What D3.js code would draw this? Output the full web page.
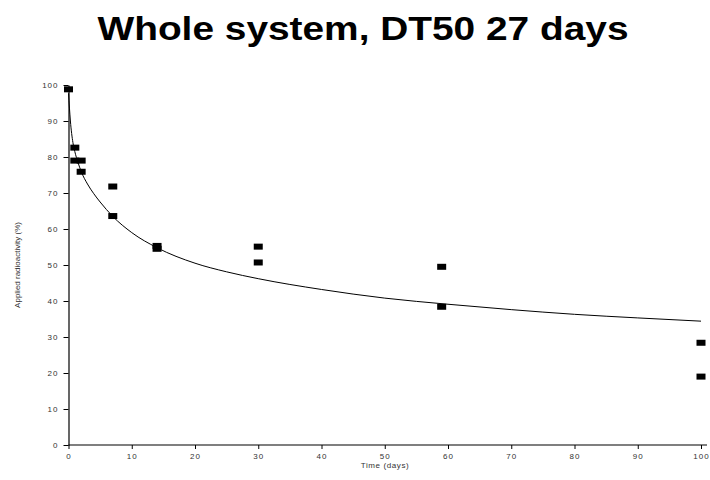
<!DOCTYPE html>
<html>
<head>
<meta charset="utf-8">
<script src="https://cdn.jsdelivr.net/npm/d3@7"></script>
<style>
  body { margin: 0; background: #fff; }
  svg { display: block; }
  .tick text { font-family: "Liberation Sans", Arial, sans-serif; font-size: 8px; fill: #333; letter-spacing: 1px; }
</style>
</head>
<body>
<svg id="chart" width="710" height="480"></svg>
<script>
// observed residues
const obs_days = [0, 1, 1, 2, 2, 7, 7, 14, 14, 30, 30, 59, 59, 100, 100];
const obs_values = [98.8, 82.6, 79.0, 79.0, 75.9, 71.8, 63.6, 55.3, 54.5, 55.1, 50.7, 49.5, 38.4, 28.4, 19.0];

// fitted curve
const fit_days = [0, 0.3, 0.7, 1, 1.5, 2, 3, 4, 5, 7, 10, 14, 20, 25, 30, 40, 50, 60, 70, 80, 90, 100];
const fit_values = [97.7, 90, 84, 81.5, 78.5, 76, 72.5, 69.8, 67.5, 63.5, 59, 54.8, 50.5, 48.1, 46.2, 43.2, 40.8, 39.1, 37.6, 36.3, 35.3, 34.4];

const x_ticks = [0, 10, 20, 30, 40, 50, 60, 70, 80, 90, 100];
const y_ticks = [0, 10, 20, 30, 40, 50, 60, 70, 80, 90, 100];

const chart_title = "Whole system, DT50 27 days";
const x_title = "Time (days)";
const y_title = "Applied radioactivity (%)";

const svg = d3.select("#chart");

const x = d3.scaleLinear().domain([0, 100]).range([68.5, 701]);
const y = d3.scaleLinear().domain([0, 100]).range([445, 85]);

svg.append("text")
  .attr("x", 363)
  .attr("y", 40)
  .attr("text-anchor", "middle")
  .attr("font-family", "'Liberation Sans', Arial, sans-serif")
  .attr("font-weight", "bold")
  .attr("font-size", 34)
  .attr("textLength", 531)
  .attr("lengthAdjust", "spacingAndGlyphs")
  .attr("fill", "#000")
  .text(chart_title);

const x_axis = svg.append("g")
  .attr("transform", `translate(0,${y(0)})`)
  .call(d3.axisBottom(x).tickValues(x_ticks).tickSize(4).tickSizeOuter(0).tickPadding(4));
x_axis.select(".domain").remove();
x_axis.append("line")
  .attr("x1", x(0)).attr("x2", x(100) + 6)
  .attr("stroke", "#000").attr("stroke-width", 1.2);

const y_axis = svg.append("g")
  .attr("transform", `translate(${x(0)},0)`)
  .call(d3.axisLeft(y).tickValues(y_ticks).tickSize(5).tickSizeOuter(0).tickPadding(5));
y_axis.select(".domain").attr("stroke-width", 1.2);

svg.selectAll(".tick line").attr("stroke", "#000");

svg.append("text")
  .attr("x", 385)
  .attr("y", 468)
  .attr("text-anchor", "middle")
  .attr("font-family", "'Liberation Sans', Arial, sans-serif")
  .attr("font-size", 8)
  .attr("letter-spacing", "0.6px")
  .attr("fill", "#333")
  .text(x_title);

svg.append("text")
  .attr("transform", "translate(20,265) rotate(-90)")
  .attr("text-anchor", "middle")
  .attr("font-family", "'Liberation Sans', Arial, sans-serif")
  .attr("font-size", 8)
  .attr("fill", "#333")
  .text(y_title);

const line = d3.line()
  .x((d, i) => x(fit_days[i]))
  .y((d) => y(d))
  .curve(d3.curveMonotoneX);

svg.append("path")
  .datum(fit_values)
  .attr("fill", "none")
  .attr("stroke", "#000")
  .attr("stroke-width", 1)
  .attr("d", line);

svg.append("g")
  .selectAll("rect")
  .data(obs_values)
  .join("rect")
  .attr("x", (d, i) => x(obs_days[i]) - 4.5)
  .attr("y", (d) => y(d) - 3)
  .attr("width", 9)
  .attr("height", 6)
  .attr("fill", "#000");
</script>
</body>
</html>
